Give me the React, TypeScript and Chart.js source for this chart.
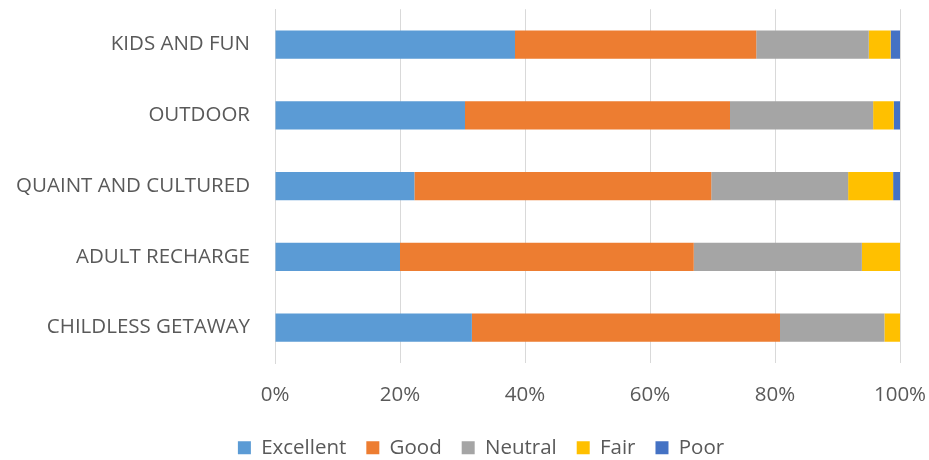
import React, { useEffect, useRef } from "react";
import { Chart, registerables } from "chart.js";

Chart.register(...registerables);

const categories = [
  "KIDS AND FUN",
  "OUTDOOR",
  "QUAINT AND CULTURED",
  "ADULT RECHARGE",
  "CHILDLESS GETAWAY",
];

const excellent = [38.4, 30.4, 22.3, 20.0, 31.5];
const good = [38.6, 42.4, 47.5, 47.0, 49.3];
const neutral = [18.0, 22.9, 21.9, 26.9, 16.7];
const fair = [3.5, 3.3, 7.2, 6.1, 2.5];
const poor = [1.5, 1.0, 1.1, 0, 0];

const seriesNames = ["Excellent", "Good", "Neutral", "Fair", "Poor"];
const seriesColors = ["#5B9BD5", "#ED7D31", "#A5A5A5", "#FFC000", "#4472C4"];
const seriesValues = [excellent, good, neutral, fair, poor];

const xTicks = [0, 20, 40, 60, 80, 100];

export default function App() {
  const ref = useRef<HTMLCanvasElement>(null);

  useEffect(() => {
    document.body.style.margin = "0";
    const canvas = ref.current;
    if (!canvas) return;
    const textColor = "#595959";
    const family = "'Open Sans', 'Liberation Sans', sans-serif";
    const size = 20.5;
    const chart = new Chart(canvas, {
      type: "bar",
      data: {
        labels: categories,
        datasets: seriesNames.map((name, i) => ({
          label: name,
          data: seriesValues[i],
          backgroundColor: seriesColors[i],
          borderWidth: 0,
          barPercentage: 0.4,
          categoryPercentage: 1,
        })),
      },
      options: {
        indexAxis: "y",
        responsive: false,
        animation: false,
        layout: { padding: { left: 10, right: -23, top: 9, bottom: -8 } },
        font: { family },
        scales: {
          x: {
            stacked: true,
            min: 0,
            max: 100,
            afterBuildTicks: (scale: any) => {
              scale.ticks = xTicks.map((v) => ({ value: v }));
            },
            afterFit: (scale: any) => {
              scale.height = 54.5;
            },
            grid: {
              color: "#D9D9D9",
              lineWidth: 1,
              drawTicks: true,
              tickLength: 20,
              tickColor: "rgba(0,0,0,0)",
            },
            border: { display: false },
            ticks: {
              padding: 0,
              maxRotation: 0,
              color: textColor,
              font: { family, size },
              callback: (v: any) => v + "%",
            },
          },
          y: {
            stacked: true,
            afterFit: (scale: any) => {
              scale.width = 265;
            },
            grid: {
              display: false,
              drawTicks: true,
              tickLength: 25,
              tickColor: "rgba(0,0,0,0)",
            },
            border: { display: true, color: "#D9D9D9", width: 1 },
            ticks: {
              padding: 0,
              color: textColor,
              font: { family, size, lineHeight: 0.9 },
            },
          },
          yRight: {
            type: "linear",
            position: "right",
            display: true,
            afterFit: (scale: any) => {
              scale.width = 52;
            },
            grid: { display: false, drawTicks: false },
            border: { display: false },
            ticks: { display: false },
          },
        },
        plugins: {
          legend: {
            position: "bottom",
            labels: {
              boxWidth: 13,
              boxHeight: 13,
              padding: 20,
              color: textColor,
              font: { family, size },
            },
          },
          tooltip: { enabled: false },
        },
      },
    });
    return () => chart.destroy();
  }, []);

  return (
    <div style={{ width: 929, height: 460 }}>
      <canvas ref={ref} width={929} height={460} style={{ display: "block" }} />
    </div>
  );
}
